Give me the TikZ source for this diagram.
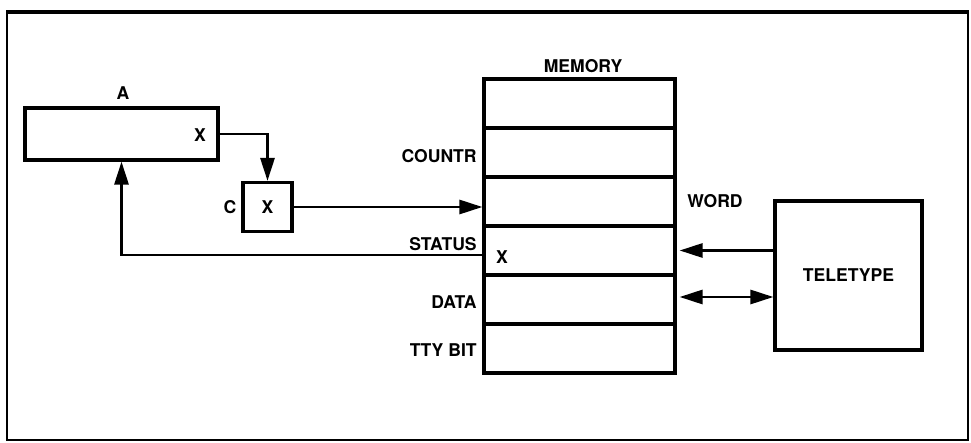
\documentclass[tikz,border=0pt]{standalone}
\usepackage{fontspec}
\setmainfont{TeX Gyre Heros}
\usetikzlibrary{arrows.meta}

\begin{document}
\begin{tikzpicture}[font=\bfseries,
  box/.style={draw,line width=1.8pt,inner sep=0pt},
  cell/.style={box,minimum width=3.82cm,minimum height=0.98cm},
  lbl/.style={anchor=east,inner sep=0pt},
  link/.style={line width=1.6pt,-{Triangle[length=4.6mm,width=2.8mm]}},
  dlink/.style={line width=1.6pt,{Triangle[length=4.6mm,width=2.8mm]}-{Triangle[length=4.6mm,width=2.8mm]}}]
  \useasboundingbox (0,0) rectangle (19.42,8.86);

  % Frame
  \draw[line width=1.6pt] (0.14,0.06) rectangle (19.36,8.64);
  \draw[line width=2.6pt] (0.14,8.62) -- (19.36,8.62);

  % Register A and cell C
  \node[box,minimum width=3.86cm,minimum height=1.04cm] (A) at (2.43,6.18) {};
  \node (alabel) at (2.46,7.0) {A};
  \node (ax) at (4.0,6.16) {X};
  \node[box,minimum size=0.98cm] (C) at (5.35,4.72) {X};
  \node (clabel) at (4.6,4.72) {C};

  % Memory
  \node (memlabel) at (11.66,7.54) {MEMORY};
  \node[cell] (top)    at (11.59,6.79) {};
  \node[cell] (countr) at (11.59,5.81) {};
  \node[cell] (word)   at (11.59,4.83) {};
  \node[cell] (status) at (11.59,3.85) {};
  \node[cell] (data)   at (11.59,2.87) {};
  \node[cell] (ttybit) at (11.59,1.89) {};
  \node (statusx) at (10.04,3.72) {X};

  % Memory labels
  \node[lbl] (countrlabel) at (9.54,5.74) {COUNTR};
  \node[lbl] (statuslabel) at (9.54,3.98) {STATUS};
  \node[lbl] (datalabel)   at (9.54,2.82) {DATA};
  \node[lbl] (ttybitlabel) at (9.54,1.86) {TTY BIT};
  \node[anchor=west,inner sep=0pt] (wordlabel) at (13.74,4.84) {WORD};

  % Teletype
  \node[box,minimum width=2.94cm,minimum height=2.98cm] (tty) at (16.97,3.35) {TELETYPE};

  % Connections
  \draw[link] (A.east) -| (C.north);
  \draw[link] (C.east) -- (C.east -| word.west);
  \draw[link] ([yshift=-0.09cm]status.west) -| (A.south);
  \draw[link,shorten >=0.06cm] (tty.west |- status) -- (status.east);
  \draw[dlink,shorten <=0.06cm] ([yshift=0.05cm]data.east) -- ([yshift=0.05cm]data.east -| tty.west);
\end{tikzpicture}
\end{document}
